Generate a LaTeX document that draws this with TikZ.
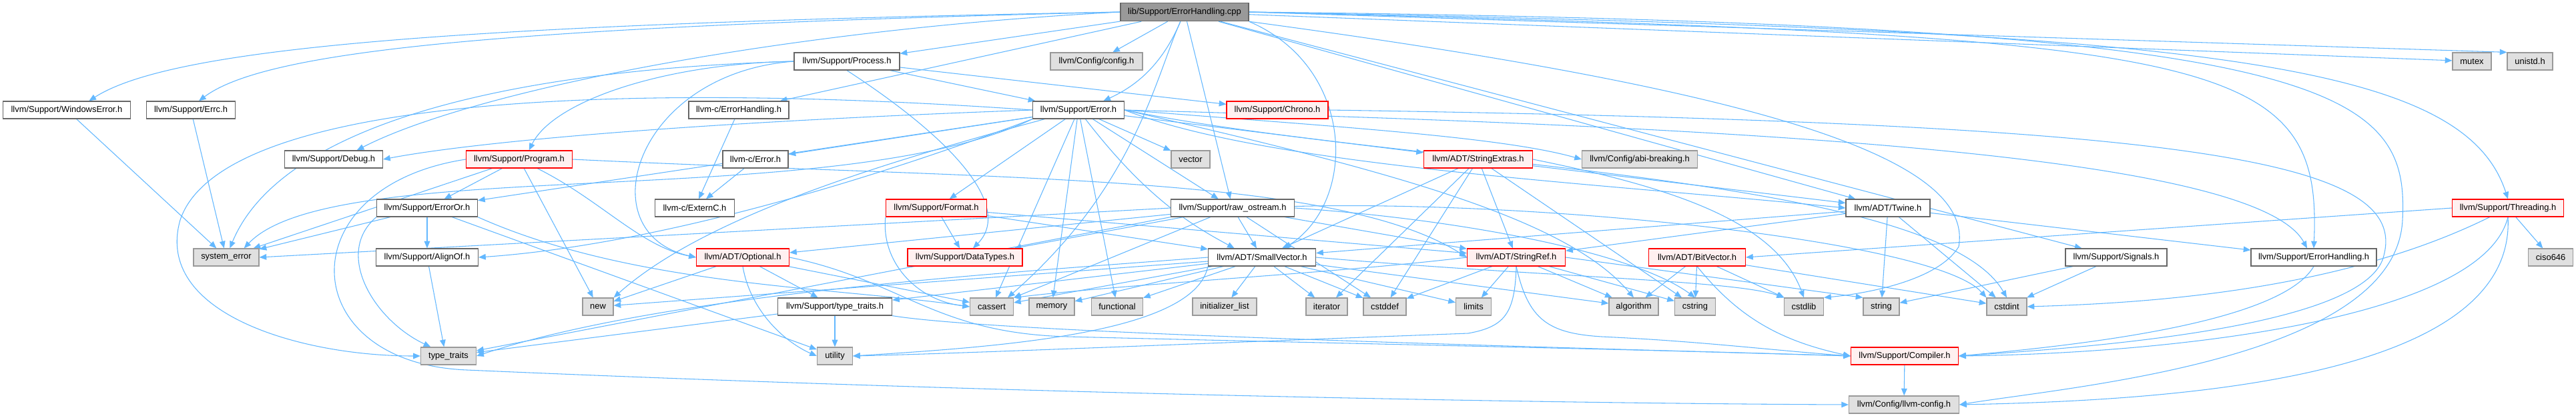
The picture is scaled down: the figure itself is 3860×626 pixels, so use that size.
\documentclass[tikz,border=0pt]{standalone}
\usepackage{fontspec}
\setmainfont{Liberation Sans}
\usepackage{xcolor}
\usepackage{tikz}
\usetikzlibrary{arrows.meta, backgrounds}
\definecolor{edgeblue}{HTML}{63B8FF}
\definecolor{nodeline}{HTML}{666666}
\definecolor{extline}{HTML}{999999}
\definecolor{extfill}{HTML}{E0E0E0}
\definecolor{cutfill}{HTML}{FFF0F0}
\definecolor{rootfill}{HTML}{999999}

\begin{document}
\begin{tikzpicture}[
      x=0.75pt, y=-0.75pt,
      file/.style={draw=nodeline, fill=white, line width=0.9pt, minimum height=19.5pt, inner sep=0pt, font=\fontsize{9.7}{11}\selectfont},
      sysfile/.style={file, draw=extline, fill=extfill},
      cutfile/.style={file, draw=red, fill=cutfill},
      rootfile/.style={file, fill=rootfill, minimum height=20.5pt},
      boxw/.style={minimum width=#1*0.75pt},
      dep/.style={-{Triangle[length=8pt, width=6.5pt]}, line width=0.8pt, edgeblue}
    ]
      \useasboundingbox (0,0) rectangle (3860,626);

      % Source file
      \node[rootfile, boxw=192] (ec) at (1775,18) {lib/Support/ErrorHandling.cpp};

      % Headers, rank by rank
      \node[file, boxw=158] (process) at (1269,92) {llvm/Support/Process.h};
      \node[sysfile, boxw=138] (config) at (1643,92) {llvm/Config/config.h};
      \node[sysfile, boxw=58] (mutex) at (3704,92) {mutex};
      \node[sysfile, boxw=68] (unistd) at (3791,92) {unistd.h};

      \node[file, boxw=191] (winerr) at (100,165) {llvm/Support/WindowsError.h};
      \node[file, boxw=133] (errc) at (286,165) {llvm/Support/Errc.h};
      \node[file, boxw=150] (cerrh) at (1107,165) {llvm-c/ErrorHandling.h};
      \node[file, boxw=137] (error) at (1616,165) {llvm/Support/Error.h};
      \node[cutfile, boxw=152] (chrono) at (1914,165) {llvm/Support/Chrono.h};

      \node[file, boxw=147] (debug) at (500,239) {llvm/Support/Debug.h};
      \node[cutfile, boxw=159] (program) at (778,239) {llvm/Support/Program.h};
      \node[file, boxw=98] (cerror) at (1132,239) {llvm-c/Error.h};
      \node[sysfile, boxw=58] (vector) at (1784,239) {vector};
      \node[cutfile, boxw=163] (strext) at (2215,239) {llvm/ADT/StringExtras.h};
      \node[sysfile, boxw=173] (abi) at (2457,239) {llvm/Config/abi-breaking.h};

      \node[file, boxw=151] (erroror) at (640,312) {llvm/Support/ErrorOr.h};
      \node[file, boxw=119] (externc) at (1041,312) {llvm-c/ExternC.h};
      \node[cutfile, boxw=151] (format) at (1403,312) {llvm/Support/Format.h};
      \node[file, boxw=185] (rawos) at (1847,312) {llvm/Support/raw\_ostream.h};
      \node[file, boxw=126] (twine) at (2829,312) {llvm/ADT/Twine.h};
      \node[cutfile, boxw=167] (threading) at (3758,312) {llvm/Support/Threading.h};

      \node[sysfile, boxw=98] (syserr) at (339,386) {system\_error};
      \node[file, boxw=153] (alignof) at (640,386) {llvm/Support/AlignOf.h};
      \node[cutfile, boxw=139] (optional) at (1113,386) {llvm/ADT/Optional.h};
      \node[cutfile, boxw=172] (datatypes) at (1446,386) {llvm/Support/DataTypes.h};
      \node[file, boxw=161] (smallvec) at (1891,386) {llvm/ADT/SmallVector.h};
      \node[cutfile, boxw=147] (stringref) at (2272,386) {llvm/ADT/StringRef.h};
      \node[cutfile, boxw=145] (bitvec) at (2543,386) {llvm/ADT/BitVector.h};
      \node[file, boxw=152] (signals) at (3171,386) {llvm/Support/Signals.h};
      \node[file, boxw=188] (errhand) at (3467,386) {llvm/Support/ErrorHandling.h};
      \node[sysfile, boxw=67] (ciso) at (3822,386) {ciso646};

      \node[sysfile, boxw=46] (new) at (896,460) {new};
      \node[file, boxw=171] (lltt) at (1251,460) {llvm/Support/type\_traits.h};
      \node[sysfile, boxw=65] (cassert) at (1486,460) {cassert};
      \node[sysfile, boxw=68] (memory) at (1576,460) {memory};
      \node[sysfile, boxw=77] (functional) at (1674,460) {functional};
      \node[sysfile, boxw=96] (initlist) at (1835,460) {initializer\_list};
      \node[sysfile, boxw=62] (iterator) at (1988,460) {iterator};
      \node[sysfile, boxw=64] (cstddef) at (2075,460) {cstddef};
      \node[sysfile, boxw=53] (limits) at (2208,460) {limits};
      \node[sysfile, boxw=74] (algorithm) at (2448,460) {algorithm};
      \node[sysfile, boxw=61] (cstring) at (2540,460) {cstring};
      \node[sysfile, boxw=59] (cstdlib) at (2703,460) {cstdlib};
      \node[sysfile, boxw=54] (string) at (2819,460) {string};
      \node[sysfile, boxw=60] (cstdint) at (3007,460) {cstdint};

      \node[sysfile, boxw=83] (typetraits) at (672,534) {type\_traits};
      \node[sysfile, boxw=53] (utility) at (1251,534) {utility};
      \node[cutfile, boxw=161] (compiler) at (2854,534) {llvm/Support/Compiler.h};

      \node[sysfile, boxw=165] (llvmcfg) at (2853,607) {llvm/Config/llvm-config.h};

      \begin{scope}[on background layer]
        \fill[white] (0,0) rectangle (3860,626);

        % Includes of the source file
        \draw[dep] (ec.west) .. controls (700,36) and (260,70) .. ([xshift=25pt]winerr.north);
        \draw[dep] (ec.west) .. controls (760,40) and (400,75) .. ([xshift=9pt]errc.north);
        \draw[dep] (ec.west) .. controls (1150,46) and (700,140) .. ([xshift=26pt]debug.north);
        \draw[dep] (ec) -- (process);
        \draw[dep] (ec) -- (config);
        \draw[dep] (ec) -- (cerrh);
        \draw[dep] (ec) .. controls (1740,100) and (1700,130) .. ([xshift=28pt]error.north);
        \draw[dep] (ec) -- (rawos);
        \draw[dep] (ec.south east) .. controls (2030,100) and (2035,300) .. ([xshift=25pt]smallvec.north);
        \draw[dep] (ec) -- (twine);
        \draw[dep] (ec) -- (signals);
        \draw[dep] (ec) -- (mutex);
        \draw[dep] (ec.east) -- (unistd.north west);
        \draw[dep] (ec.east) .. controls (3300,45) and (3690,90) .. (threading.north);
        \draw[dep] (ec.east) .. controls (3330,55) and (3480,80) .. (errhand.north);
        \draw[dep] (ec.east) .. controls (3500,35) and (3610,130) .. (3600,330) .. controls (3590,540) and (3100,580) .. (llvmcfg.east);
        \draw[dep] (ec.south east) .. controls (2600,130) and (2960,230) .. (2935,370) .. controls (2905,420) and (2800,440) .. (cstdlib.north east);
        \draw[dep] (ec) .. controls (1730,120) and (1700,280) .. ([xshift=18pt]cassert.north);

        % Process.h and Program.h
        \draw[dep] (process) -- (error);
        \draw[dep] (process) -- (chrono);
        \draw[dep] (process.west) .. controls (1000,95) and (830,150) .. ([xshift=11pt]program.north);
        \draw[dep] (process.west) .. controls (750,105) and (420,190) .. ([xshift=4pt]syserr.north);
        \draw[dep] (process.south) .. controls (1460,230) and (1510,320) .. ([xshift=9pt]datatypes.north);
        \draw[dep] (process.west) .. controls (950,110) and (880,350) .. (optional.west);
        \draw[dep] (program) -- (erroror);
        \draw[dep] (program) -- (syserr);
        \draw[dep] (program) -- (new);
        \draw[dep] (program) .. controls (900,300) and (960,370) .. (optional.west);
        \draw[dep] (program.east) .. controls (1500,270) and (2000,260) .. (stringref.west);
        \draw[dep] (program.west) .. controls (430,280) and (440,545) .. (700,555) .. controls (1500,590) and (2300,605) .. (llvmcfg.west);

        % C bindings
        \draw[dep] (cerrh) -- (externc);
        \draw[dep] (cerror) -- (externc);

        % Error.h
        \draw[dep] (error) -- (cerror);
        \draw[dep] (error.west) .. controls (1000,185) and (700,215) .. (debug.east);
        \draw[dep] (error) -- (erroror);
        \draw[dep] (error.south west) .. controls (1250,290) and (950,370) .. (alignof.east);
        \draw[dep] (error) -- (format);
        \draw[dep] (error) -- (rawos);
        \draw[dep] (error) -- (vector);
        \draw[dep] (error) -- (strext);
        \draw[dep] (error.east) .. controls (2000,190) and (2250,205) .. (abi.west);
        \draw[dep] (error.east) .. controls (1900,250) and (2400,275) .. (twine.west);
        \draw[dep] (error.east) .. controls (2600,190) and (3380,230) .. ([xshift=-7.5pt]errhand.north);
        \draw[dep] (error) -- (memory);
        \draw[dep] (error) -- (functional);
        \draw[dep] (error) -- (cassert);
        \draw[dep] (error) .. controls (1720,300) and (1790,340) .. ([xshift=-31pt]smallvec.north);
        \draw[dep] (error.south west) .. controls (1250,320) and (500,230) .. ([xshift=20pt]syserr.north);
        \draw[dep] (error.west) .. controls (900,120) and (330,150) .. (270,330) .. controls (230,470) and (450,534) .. (typetraits.west);
        \draw[dep] (error) .. controls (1300,250) and (1050,330) .. (new.north east);
        \draw[dep] (error.east) .. controls (2100,260) and (2350,330) .. (algorithm.north);
        \draw[dep] (error.east) .. controls (2100,250) and (2900,260) .. (cstdint.north);

        % Chrono.h, Format.h, raw_ostream.h
        \draw[dep] (chrono.east) .. controls (3300,185) and (3620,240) .. (3570,390) .. controls (3530,490) and (3150,520) .. (compiler.east);
        \draw[dep] (format) -- (datatypes);
        \draw[dep] (format.south west) .. controls (1320,390) and (1370,450) .. (cassert.west);
        \draw[dep] (format) -- (stringref);
        \draw[dep] (format) -- (smallvec);
        \draw[dep] (rawos) -- (stringref);
        \draw[dep] (rawos) -- (datatypes);
        \draw[dep] (rawos) -- (optional);
        \draw[dep] (rawos) -- (smallvec);
        \draw[dep] (rawos) -- (cassert);
        \draw[dep] (rawos.west) -- (syserr.east);
        \draw[dep] (rawos.south west) -- (typetraits);
        \draw[dep] (rawos) -- (cstddef);
        \draw[dep] (rawos.east) .. controls (2200,330) and (2450,380) .. (cstring.north);
        \draw[dep] (rawos) .. controls (2300,300) and (2900,360) .. (cstdint.north west);

        % SmallVector.h
        \draw[dep] (smallvec) -- (lltt);
        \draw[dep] (smallvec) -- (new);
        \draw[dep] (smallvec.south west) .. controls (1790,500) and (1500,520) .. (utility.east);
        \draw[dep] (smallvec.west) .. controls (1500,410) and (1000,440) .. (typetraits.east);
        \draw[dep] (smallvec) -- (cassert);
        \draw[dep] (smallvec) -- (memory);
        \draw[dep] (smallvec) -- (functional);
        \draw[dep] (smallvec) -- (initlist);
        \draw[dep] (smallvec) -- (iterator);
        \draw[dep] (smallvec) -- (cstddef);
        \draw[dep] (smallvec) -- (limits);
        \draw[dep] (smallvec) -- (algorithm);
        \draw[dep] (smallvec.east) .. controls (2300,415) and (2600,420) .. (cstdlib.north west);

        % StringExtras.h and StringRef.h
        \draw[dep] (strext) -- (stringref);
        \draw[dep] (strext) -- (twine);
        \draw[dep] (strext) -- (iterator);
        \draw[dep] (strext) -- (cstddef);
        \draw[dep] (strext) -- (smallvec);
        \draw[dep] (strext) -- (cstring);
        \draw[dep] (strext.east) .. controls (2500,280) and (2660,330) .. (cstdlib.north);
        \draw[dep] (stringref) -- (cstddef);
        \draw[dep] (stringref) -- (limits);
        \draw[dep] (stringref) -- (algorithm);
        \draw[dep] (stringref) -- (cstring);
        \draw[dep] (stringref.east) -- (string.north west);
        \draw[dep] (stringref.west) .. controls (2000,410) and (1700,425) .. (cassert.north east);
        \draw[dep] (stringref.south) .. controls (2270,470) and (2255,490) .. (2200,500) .. controls (1800,515) and (1450,530) .. (utility.east);
        \draw[dep] (stringref.south) .. controls (2290,480) and (2320,500) .. (2400,505) .. controls (2550,512) and (2650,525) .. (compiler.west);

        % BitVector.h, Twine.h, Signals.h
        \draw[dep] (bitvec) -- (algorithm);
        \draw[dep] (bitvec) -- (cstring);
        \draw[dep] (bitvec) -- (cstdlib);
        \draw[dep] (bitvec) -- (cstdint);
        \draw[dep] (bitvec.south) .. controls (2600,470) and (2660,510) .. (compiler.west);
        \draw[dep] (twine) -- (smallvec);
        \draw[dep] (twine) -- (stringref);
        \draw[dep] (twine) -- (errhand);
        \draw[dep] (twine) -- (cstdint);
        \draw[dep] (twine) -- (string);
        \draw[dep] (signals) -- (cstdint);
        \draw[dep] (signals) -- (string);

        % ErrorHandling.h and Threading.h
        \draw[dep] (errhand.south) .. controls (3420,480) and (3150,515) .. (compiler.east);
        \draw[dep] (threading) -- (ciso);
        \draw[dep] (threading.west) -- (bitvec.east);
        \draw[dep] (threading.south) .. controls (3720,480) and (3250,530) .. (compiler.east);
        \draw[dep] (threading.south) .. controls (3770,560) and (3300,600) .. (llvmcfg.east);
        \draw[dep] (threading) .. controls (3500,440) and (3200,455) .. (cstdint.east);

        % Optional.h, type_traits.h, ErrorOr.h, AlignOf.h
        \draw[dep] (optional) -- (new);
        \draw[dep] (optional) -- (lltt);
        \draw[dep] (optional.south) .. controls (1125,470) and (1180,515) .. (utility.west);
        \draw[dep] (optional) -- (cassert);
        \draw[dep] (optional.east) .. controls (1350,420) and (1400,500) .. (1600,505) .. controls (2000,515) and (2500,525) .. (compiler.west);
        \draw[dep] (lltt) -- (utility);
        \draw[dep] (lltt) -- (typetraits);
        \draw[dep] (lltt.south east) .. controls (1500,500) and (2300,520) .. (compiler.west);
        \draw[dep] (erroror) -- (alignof);
        \draw[dep] (erroror) -- (syserr);
        \draw[dep] (erroror.south west) .. controls (500,380) and (560,480) .. ([xshift=-20pt]typetraits.north);
        \draw[dep] (erroror) -- (utility);
        \draw[dep] (erroror.south east) .. controls (950,430) and (1250,430) .. (cassert.west);
        \draw[dep] (alignof) -- ([xshift=-5pt]typetraits.north);
        \draw[dep] (winerr) -- (syserr);
        \draw[dep] (errc) -- (syserr);

        % Compiler.h
        \draw[dep] (compiler) -- (llvmcfg);
      \end{scope}
\end{tikzpicture}
\end{document}
